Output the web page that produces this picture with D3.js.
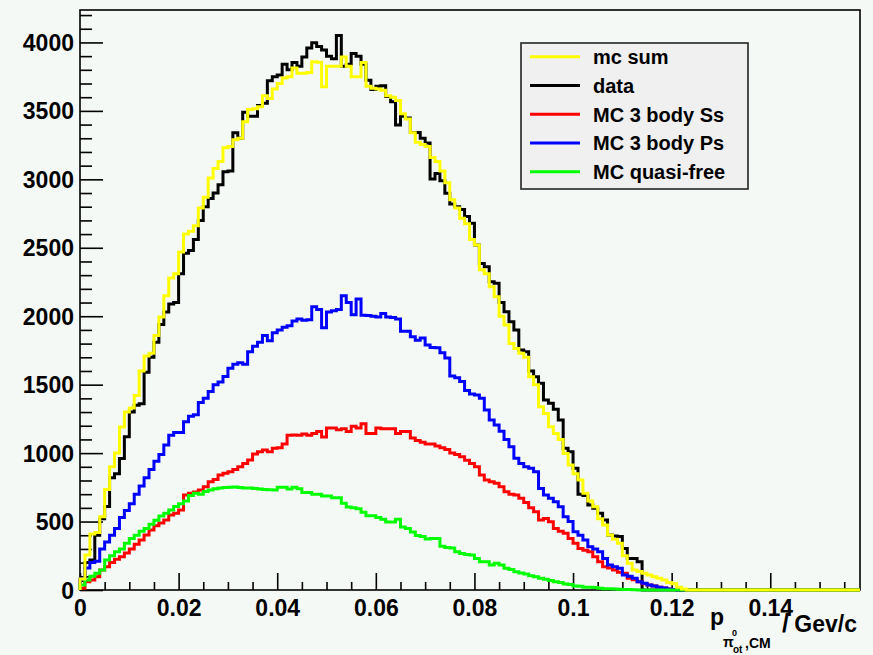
<!DOCTYPE html>
<html>
<head>
<meta charset="utf-8">
<script src="https://cdn.jsdelivr.net/npm/d3@7/dist/d3.min.js"></script>
<style>
  html, body { margin: 0; padding: 0; background: #f5f9f6; }
  svg { display: block; }
  text { font-family: "Liberation Sans", Arial, Helvetica, sans-serif; font-weight: bold; fill: #000; }
</style>
</head>
<body>
<svg id="chart" width="873" height="655"></svg>
<script>
// ---------------- data (bin width 0.001 GeV/c, bins start at 0) ----------------
const binWidth = 0.001;
const xRange = [0, 0.1582];
const yRange = [0, 4237];

const xMajorTicks = [0, 0.02, 0.04, 0.06, 0.08, 0.1, 0.12, 0.14];
const xTickLabels = ["0", "0.02", "0.04", "0.06", "0.08", "0.1", "0.12", "0.14"];
const yMajorTicks = [0, 500, 1000, 1500, 2000, 2500, 3000, 3500, 4000];
const yTickLabels = ["0", "500", "1000", "1500", "2000", "2500", "3000", "3500", "4000"];

const seriesNames = ["mc sum", "data", "MC 3 body Ss", "MC 3 body Ps", "MC quasi-free"];
const seriesColors = ["#ffff00", "#000000", "#ff0000", "#0000ff", "#00ff00"];

const mcSum = [
  80, 256, 410, 420, 535, 735, 900, 1000, 1190, 1300,
  1330, 1420, 1600, 1710, 1730, 1860, 1995, 2150, 2280, 2310,
  2470, 2600, 2620, 2660, 2790, 2870, 3010, 3080, 3130, 3230,
  3240, 3290, 3300, 3420, 3510, 3515, 3530, 3610, 3590, 3660,
  3700, 3740, 3750, 3814, 3775, 3775, 3780, 3859, 3855, 3676,
  3827, 3827, 3827, 3893, 3827, 3749, 3749, 3854, 3680, 3665,
  3660, 3650, 3610, 3600, 3575, 3480, 3440, 3340, 3270, 3255,
  3240, 3160, 3130, 3060, 2975, 2850, 2790, 2715, 2676, 2560,
  2520, 2340, 2310, 2216, 2143, 2000, 1936, 1800, 1765, 1729,
  1700, 1558, 1500, 1339, 1290, 1193, 1144, 1100, 998, 913,
  850, 803, 706, 650, 609, 520, 475, 402, 370, 341,
  250, 195, 146, 135, 122, 110, 97, 85, 73, 55,
  45, 20, 8
];

const data = [
  70, 200, 220, 400, 520, 610, 820, 850, 960, 1120,
  1300, 1350, 1360, 1590, 1700, 1810, 1940, 2030, 2090, 2100,
  2310, 2460, 2480, 2560, 2700, 2800, 2860, 2900, 2960, 3055,
  3060, 3340, 3300, 3490, 3460, 3460, 3540, 3555, 3720, 3750,
  3762, 3841, 3801, 3854, 3827, 3893, 3960, 3998, 3971, 3945,
  3900, 3880, 4050, 3827, 3841, 3919, 3900, 3841, 3723, 3657,
  3680, 3684, 3605, 3566, 3396, 3461, 3448, 3343, 3343, 3300,
  3265, 3003, 3042, 2990, 2898, 2820, 2800, 2780, 2728, 2680,
  2520, 2386, 2362, 2252, 2240, 2100, 2033, 1960, 1899, 1753,
  1741, 1600, 1558, 1510, 1388, 1364, 1320, 1242, 1035, 1010,
  889, 700, 690, 621, 597, 560, 511, 402, 395, 390,
  304, 231, 231, 207
];

const mc3BodySs = [
  12, 60, 73, 97, 146, 170, 200, 225, 243, 270,
  300, 335, 365, 402, 438, 470, 490, 511, 548, 560,
  584, 694, 706, 715, 730, 755, 790, 808, 840, 852,
  864, 880, 901, 925, 950, 993, 1010, 1023, 1010, 1035,
  1039, 1066, 1131, 1132, 1131, 1140, 1131, 1144, 1157, 1118,
  1183, 1183, 1170, 1178, 1157, 1196, 1183, 1215, 1144, 1144,
  1183, 1178, 1178, 1178, 1144, 1157, 1157, 1110, 1092, 1080,
  1066, 1066, 1052, 1039, 1026, 1000, 990, 974, 948, 925,
  901, 840, 803, 790, 779, 755, 718, 700, 694, 670,
  640, 600, 572, 511, 523, 499, 450, 430, 414, 377,
  341, 304, 290, 280, 243, 207, 170, 160, 146, 130,
  122, 85, 75, 61, 45, 37, 30, 20, 15, 8,
  3
];

const mc3BodyPs = [
  80, 160, 200, 210, 300, 350, 400, 450, 530, 580,
  630, 700, 760, 820, 880, 940, 990, 1060, 1130, 1150,
  1150, 1230, 1270, 1280, 1370, 1400, 1450, 1500, 1520, 1560,
  1620, 1650, 1660, 1650, 1740, 1780, 1810, 1860, 1820, 1880,
  1900, 1920, 1930, 1965, 1980, 1970, 1975, 2070, 2050, 1915,
  2030, 2040, 2050, 2150, 2100, 2010, 2126, 2008, 2005, 2000,
  1995, 2020, 1995, 1990, 1980, 1890, 1890, 1850, 1825, 1840,
  1790, 1772, 1770, 1733, 1694, 1563, 1550, 1524, 1458, 1432,
  1424, 1400, 1315, 1242, 1205, 1160, 1100, 1047, 962, 925,
  900, 889, 864, 742, 694, 670, 645, 609, 536, 500,
  426, 400, 365, 316, 300, 280, 231, 183, 170, 158,
  110, 100, 85, 61, 50, 37, 30, 20, 15, 8,
  3
];

const mcQuasiFree = [
  37, 73, 100, 122, 146, 219, 250, 280, 300, 341,
  377, 400, 430, 450, 480, 510, 540, 560, 585, 610,
  630, 650, 690, 706, 700, 720, 730, 740, 745, 748,
  750, 752, 748, 745, 745, 742, 738, 735, 732, 730,
  751, 751, 738, 751, 740, 712, 712, 699, 699, 686,
  686, 673, 673, 634, 607, 600, 594, 568, 542, 542,
  530, 516, 497, 497, 516, 460, 450, 424, 398, 390,
  372, 377, 377, 319, 310, 306, 280, 267, 260, 256,
  231, 207, 207, 183, 195, 183, 158, 150, 134, 125,
  117, 105, 97, 85, 78, 70, 61, 55, 44, 40,
  29, 27, 20, 20, 18, 12, 10, 10, 8, 6,
  4, 3, 2
];

// ---------------- drawing ----------------
const svg = d3.select("#chart");
const frame = { left: 80, right: 860, top: 10, bottom: 590 };

const x = d3.scaleLinear().domain(xRange).range([frame.left, frame.right]);
const y = d3.scaleLinear().domain(yRange).range([frame.bottom, frame.top]);

svg.append("rect").attr("width", 873).attr("height", 655).attr("fill", "#f5f9f6");

// frame
svg.append("rect")
  .attr("x", frame.left).attr("y", frame.top)
  .attr("width", frame.right - frame.left).attr("height", frame.bottom - frame.top)
  .attr("fill", "none").attr("stroke", "#000").attr("stroke-width", 1.6);

// x axis minor ticks
const xMinor = d3.range(0, 0.1582, 0.005).filter(v => Math.abs(v / 0.02 - Math.round(v / 0.02)) > 1e-6);
svg.append("g")
  .attr("transform", `translate(0,${frame.bottom})`)
  .call(d3.axisBottom(x).tickValues(xMinor).tickSize(-8).tickFormat(""))
  .call(g => g.select(".domain").remove())
  .call(g => g.selectAll("line").attr("stroke", "#000").attr("stroke-width", 1.6));

// x axis major ticks + labels
svg.append("g")
  .attr("transform", `translate(0,${frame.bottom})`)
  .call(d3.axisBottom(x).tickValues(xMajorTicks).tickSize(-17).tickPadding(10)
        .tickFormat((d, i) => xTickLabels[i]))
  .call(g => g.select(".domain").remove())
  .call(g => g.selectAll("line").attr("stroke", "#000").attr("stroke-width", 1.6))
  .call(g => g.selectAll("text").attr("font-size", 23).attr("fill", "#000")
        .attr("font-family", "Liberation Sans, Arial, sans-serif").attr("font-weight", "bold"));

// y axis minor ticks
const yMinor = d3.range(100, 4237, 100).filter(v => v % 500 !== 0);
svg.append("g")
  .attr("transform", `translate(${frame.left},0)`)
  .call(d3.axisLeft(y).tickValues(yMinor).tickSize(-12).tickFormat(""))
  .call(g => g.select(".domain").remove())
  .call(g => g.selectAll("line").attr("stroke", "#000").attr("stroke-width", 1.6));

// y axis major ticks + labels
svg.append("g")
  .attr("transform", `translate(${frame.left},0)`)
  .call(d3.axisLeft(y).tickValues(yMajorTicks).tickSize(-23).tickPadding(6)
        .tickFormat((d, i) => yTickLabels[i]))
  .call(g => g.select(".domain").remove())
  .call(g => g.selectAll("line").attr("stroke", "#000").attr("stroke-width", 1.6))
  .call(g => g.selectAll("text").attr("font-size", 23).attr("fill", "#000")
        .attr("font-family", "Liberation Sans, Arial, sans-serif").attr("font-weight", "bold")
        .attr("dy", "0.35em"));

// clip
svg.append("clipPath").attr("id", "plotclip")
  .append("rect").attr("x", frame.left - 2).attr("y", frame.top)
  .attr("width", frame.right - frame.left + 2).attr("height", frame.bottom - frame.top + 2);

const line = d3.line().x(d => x(d[0])).y(d => y(d[1]));
function histPoints(vals) {
  const pts = [[0, 0]];
  vals.forEach((v, i) => { pts.push([i * binWidth, v]); pts.push([(i + 1) * binWidth, v]); });
  pts.push([vals.length * binWidth, 0]);
  pts.push([xRange[1], 0]);
  return pts;
}

const histG = svg.append("g").attr("clip-path", "url(#plotclip)");
const drawOrder = [
  { vals: data, color: seriesColors[1] },
  { vals: mc3BodySs, color: seriesColors[2] },
  { vals: mc3BodyPs, color: seriesColors[3] },
  { vals: mcQuasiFree, color: seriesColors[4] },
  { vals: mcSum, color: seriesColors[0] }
];
drawOrder.forEach(s => {
  histG.append("path")
    .attr("d", line(histPoints(s.vals)))
    .attr("fill", "none")
    .attr("stroke", s.color)
    .attr("stroke-width", 3)
    .attr("stroke-linejoin", "miter")
    .attr("stroke-linecap", "butt");
});

// legend
const leg = svg.append("g");
leg.append("rect")
  .attr("x", 521).attr("y", 43).attr("width", 227).attr("height", 146)
  .attr("fill", "#f0f0f0").attr("stroke", "#222").attr("stroke-width", 1.6);
seriesNames.forEach((name, i) => {
  const ly = 56.7 + i * 28.75;
  leg.append("line").attr("x1", 530).attr("x2", 580).attr("y1", ly).attr("y2", ly)
    .attr("stroke", seriesColors[i]).attr("stroke-width", 3);
  leg.append("text").attr("x", 593).attr("y", ly + 7.5)
    .attr("font-size", 20).text(name);
});

// x axis title: p_{π^0_ot,CM} /Gev/c
const t = svg.append("g");
t.append("text").attr("x", 710).attr("y", 625).attr("font-size", 23).text("p");
t.append("text").attr("x", 723).attr("y", 647).attr("font-size", 14).text("π");
t.append("text").attr("x", 732).attr("y", 636).attr("font-size", 9).text("0");
t.append("text").attr("x", 733).attr("y", 653).attr("font-size", 10).text("ot");
t.append("text").attr("x", 745).attr("y", 648).attr("font-size", 14).text(",CM");
t.append("text").attr("x", 782).attr("y", 632).attr("font-size", 25).text("/");
t.append("text").attr("x", 857).attr("y", 632).attr("font-size", 23)
  .attr("text-anchor", "end").text("Gev/c");
</script>
</body>
</html>
